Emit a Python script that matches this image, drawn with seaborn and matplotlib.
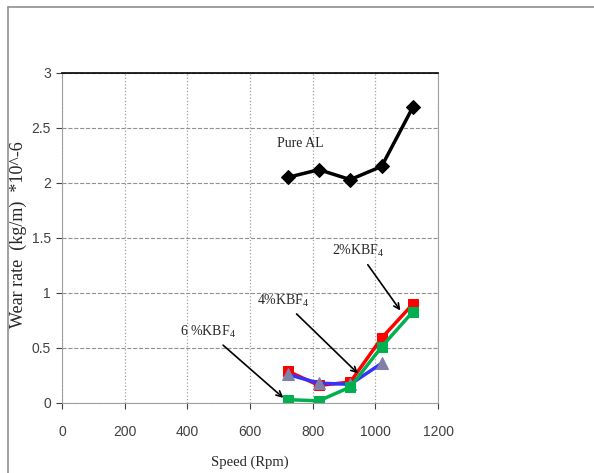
import pandas as pd
import matplotlib.pyplot as plt
import seaborn as sns
from matplotlib.lines import Line2D

sns.set_style("white")
plt.rcParams['font.family'] = ['Liberation Sans', 'DejaVu Sans']
plt.rcParams['mathtext.fontset'] = 'custom'
plt.rcParams['mathtext.rm'] = 'Liberation Serif'
plt.rcParams['mathtext.it'] = 'Liberation Serif'

speed = [720, 820, 920, 1020, 1120]
pure_al = [2.05, 2.12, 2.03, 2.15, 2.69]
kbf4_2 = [0.29, 0.16, 0.19, 0.59, 0.90]
kbf4_4 = [0.26, 0.18, 0.17, 0.36]
kbf4_6 = [0.03, 0.02, 0.145, 0.51, 0.83]

fig = plt.figure(figsize=(5.94, 4.73), dpi=100)
ax = fig.add_axes([0.1044, 0.148, 0.633, 0.698])

df_pure = pd.DataFrame({'speed': speed, 'wear': pure_al})
df2 = pd.DataFrame({'speed': speed, 'wear': kbf4_2})
df4 = pd.DataFrame({'speed': speed[:4], 'wear': kbf4_4})
df6 = pd.DataFrame({'speed': speed, 'wear': kbf4_6})

sns.lineplot(data=df_pure, x='speed', y='wear', ax=ax, color='black', lw=2.5,
             marker='D', markersize=7, markeredgecolor='black')
sns.lineplot(data=df2, x='speed', y='wear', ax=ax, color='#ff0000', lw=2.5,
             marker='s', markersize=7, markeredgecolor='#ff0000')
sns.lineplot(data=df4, x='speed', y='wear', ax=ax, color='#3333ff', lw=2.5,
             marker='^', markersize=8, markerfacecolor='#8080a8',
             markeredgecolor='#8080a8')
sns.lineplot(data=df6, x='speed', y='wear', ax=ax, color='#00b050', lw=2.5,
             marker='s', markersize=7, markeredgecolor='#00b050')

ax.set_xlim(0, 1200)
ax.set_ylim(0, 3)
ax.set_xticks(range(0, 1201, 200))
ax.set_yticks([0, 0.5, 1, 1.5, 2, 2.5, 3])
ax.set_yticklabels(['0', '0.5', '1', '1.5', '2', '2.5', '3'])
ax.tick_params(axis='both', labelsize=10, colors='#404040', length=4,
               direction='out', bottom=True, left=True, pad=4)
ax.tick_params(axis='x', pad=12)
ax.xaxis.grid(True, ls=':', color='#a0a0a0', lw=0.9)
ax.yaxis.grid(True, ls='--', color='#909090', lw=0.8)
for s in ['left', 'bottom', 'right']:
    ax.spines[s].set_color('#a0a0a0')
ax.spines['top'].set_color('black')
ax.spines['top'].set_linewidth(1.2)

serif = ['Liberation Serif', 'DejaVu Serif']
ax.set_xlabel('Speed (Rpm)', family=serif, fontsize=10.5, labelpad=12)
ax.set_ylabel('Wear rate  (kg/m)  *10^-6', family=serif, fontsize=13)
ax.yaxis.set_label_coords(-0.093, 0.51)

ax.text(760, 2.36, 'Pure AL', family=serif, fontsize=10, ha='center', va='center')
arrow = dict(arrowstyle='->', color='black', lw=1.2)
ax.annotate('2%KBF$_4$', xy=(1085, 0.82), xytext=(945, 1.38), family=serif,
            fontsize=10, ha='center', va='center', arrowprops=arrow)
ax.annotate('4%KBF$_4$', xy=(951, 0.25), xytext=(705, 0.93), family=serif,
            fontsize=10, ha='center', va='center', arrowprops=arrow)
ax.annotate('6 %KBF$_4$', xy=(713, 0.03), xytext=(466, 0.645), family=serif,
            fontsize=10, ha='center', va='center', arrowprops=arrow)

fig.add_artist(Line2D([8 / 594, 8 / 594], [0, 1 - 7 / 473], color='#909090', lw=1.2))
fig.add_artist(Line2D([8 / 594, 1], [1 - 7 / 473, 1 - 7 / 473], color='#909090', lw=1.2))

fig.savefig('out.png', dpi=100)
